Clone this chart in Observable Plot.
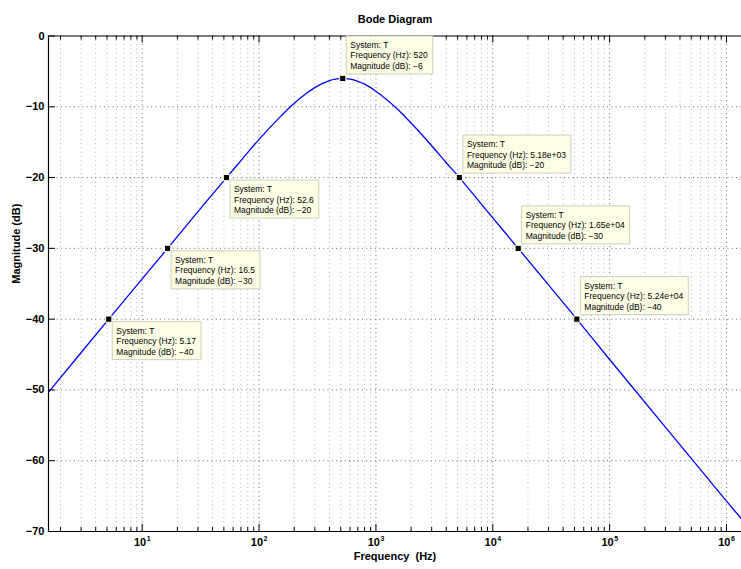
<!DOCTYPE html>
<html>
<head>
<meta charset="utf-8">
<script src="https://cdn.jsdelivr.net/npm/d3@7"></script>
<script src="https://cdn.jsdelivr.net/npm/@observablehq/plot@0.6"></script>
<style>
  html, body { margin: 0; padding: 0; background: #fff; }
  svg text { white-space: pre; }
</style>
</head>
<body>
<div id="chart"></div>
<script>
// ---- data ----
const curveFreq = [1.58, 5.17, 16.5, 30, 52.6, 70, 100, 150, 200, 250, 300, 350, 400, 450, 520, 600, 700, 800, 1000, 1500, 2000, 3000, 4000, 5180, 10000, 16500, 52400, 100000, 1000000, 1340000];
const curveMag  = [-50.3, -40, -30, -24.8, -20, -17.6, -14.6, -11.5, -9.5, -8.2, -7.3, -6.7, -6.3, -6.1, -6, -6.1, -6.4, -6.8, -7.8, -10.2, -12.3, -15.5, -17.9, -20, -25.7, -30, -40, -45.7, -65.7, -68.2];

const tipFreq = [5.17, 16.5, 52.6, 520, 5180, 16500, 52400];
const tipMag  = [-40, -30, -20, -6, -20, -30, -40];
const tipSystem = "T";

const xDecades = [10, 100, 1000, 10000, 100000, 1000000];
const xDecadeExp = ["1", "2", "3", "4", "5", "6"];
const xMinor = [2,3,4,5,6,7,8,9, 20,30,40,50,60,70,80,90, 200,300,400,500,600,700,800,900,
  2000,3000,4000,5000,6000,7000,8000,9000, 20000,30000,40000,50000,60000,70000,80000,90000,
  200000,300000,400000,500000,600000,700000,800000,900000];
const yTicks = [0, -10, -20, -30, -40, -50, -60, -70];

const titleText = "Bode Diagram";
const xLabel = "Frequency  (Hz)";
const yLabel = "Magnitude (dB)";

// ---- helpers ----
const curve = curveFreq.map((f, i) => ({f, m: curveMag[i]}));
const tips = tipFreq.map((f, i) => ({f, m: tipMag[i]}));
const minus = v => (v < 0 ? "\u2212" + String(Math.abs(v)) : String(v));
function fmtG(f) {
  const e = Math.floor(Math.log10(f));
  if (e >= 3) {
    const [mant, ex] = f.toExponential(2).split("e");
    const sign = ex[0];
    const digits = ex.slice(1).padStart(2, "0");
    return `${mant}e${sign}${digits}`;
  }
  return String(+f.toPrecision(3));
}
const peakF = tips.reduce((a, b) => (b.m > a.m ? b : a)).f;

const W = 741, H = 569;
const mL = 48, mR = 0, mT = 35.5, mB = 38;
const frameH = H - mT - mB, frameW = W - mL - mR;
const font = "'Liberation Sans', Arial, Helvetica, sans-serif";
const majorLen = 7, minorLen = 4;

const tipMark = Plot.dot(tips, {
  x: "f", y: "m",
  render(index, scales, values) {
    const g = d3.create("svg:g");
    const ctx = document.createElement("canvas").getContext("2d");
    ctx.font = `8.5px ${font}`;
    for (const i of index) {
      const d = tips[i];
      const px = values.x[i], py = values.y[i];
      const lines = [`System: ${tipSystem}`, `Frequency (Hz): ${fmtG(d.f)}`, `Magnitude (dB): ${minus(d.m)}`];
      const w = Math.max(...lines.map(l => ctx.measureText(l).width)) + 9;
      const h = 38;
      const left = px + 4;
      const top = d.f < peakF ? py + 3 : py - 4 - h;
      g.append("rect")
        .attr("x", left).attr("y", top).attr("width", w).attr("height", h)
        .attr("fill", "#fefee6").attr("stroke", "#cfcfb8").attr("stroke-width", 1);
      lines.forEach((l, k) => {
        g.append("text")
          .attr("x", left + 4).attr("y", top + 12 + k * 10.5)
          .attr("text-anchor", "start")
          .attr("font-family", font).attr("font-size", 8.5).attr("fill", "#000")
          .text(l);
      });
    }
    return g.node();
  }
});

const chart = Plot.plot({
  width: W, height: H,
  marginLeft: mL, marginRight: mR, marginTop: mT, marginBottom: mB,
  style: {fontFamily: font, background: "#fff", overflow: "visible"},
  x: {type: "log", domain: [1.578, 1.344e6], axis: null},
  y: {domain: [-70, 0], axis: null},
  marks: [
    // grid
    Plot.ruleX(xMinor, {stroke: "#b0b0b0", strokeDasharray: "1,3.3", strokeWidth: 1}),
    Plot.ruleX(xDecades, {stroke: "#666", strokeDasharray: "1,3.3", strokeWidth: 1}),
    Plot.ruleY(yTicks.slice(1, -1), {stroke: "#666", strokeDasharray: "1,3.3", strokeWidth: 1}),
    // curve
    Plot.line(curve, {x: "f", y: "m", stroke: "#0000ff", strokeWidth: 1.3, curve: "catmull-rom", clip: true}),
    // axes lines
    Plot.frame({anchor: "left", stroke: "#000", strokeWidth: 1.2}),
    Plot.frame({anchor: "bottom", stroke: "#000", strokeWidth: 1.2}),
    Plot.frame({anchor: "top", stroke: "#000", strokeWidth: 1.2}),
    // ticks (inside)
    Plot.ruleX(xDecades, {stroke: "#000", insetTop: frameH - majorLen}),
    Plot.ruleX(xMinor, {stroke: "#000", insetTop: frameH - minorLen}),
    Plot.ruleX(xDecades, {stroke: "#000", insetBottom: frameH - majorLen}),
    Plot.ruleX(xMinor, {stroke: "#000", insetBottom: frameH - minorLen}),
    Plot.ruleY(yTicks, {stroke: "#000", insetRight: frameW - majorLen}),
    // tick labels
    Plot.text(yTicks, {y: d => d, text: d => minus(d), frameAnchor: "left", dx: -4, textAnchor: "end", fontSize: 11, fontWeight: "bold", fill: "#000"}),
    Plot.text(xDecades, {x: d => d, text: () => "10", frameAnchor: "bottom", dy: 14, dx: 4, textAnchor: "end", fontSize: 11, fontWeight: "bold", fill: "#000"}),
    Plot.text(xDecades, {x: d => d, text: (d, i) => xDecadeExp[i], frameAnchor: "bottom", dy: 9, dx: 4.5, textAnchor: "start", fontSize: 7, fontWeight: "bold", fill: "#000"}),
    // title & labels
    Plot.text([titleText], {text: d => d, frameAnchor: "top", dy: -21, fontSize: 11, fontWeight: "bold", fill: "#000"}),
    Plot.text([xLabel], {text: d => d, frameAnchor: "bottom", dy: 28, fontSize: 11, fontWeight: "bold", fill: "#000"}),
    Plot.text([yLabel], {text: d => d, frameAnchor: "left", dx: -32, rotate: -90, fontSize: 11, fontWeight: "bold", fill: "#000"}),
    // data tips
    tipMark,
    Plot.dot(tips, {x: "f", y: "m", symbol: "square", r: 3.5, fill: "#000", stroke: "#fefee6", strokeWidth: 1})
  ]
});
document.getElementById("chart").appendChild(chart);
</script>
</body>
</html>
